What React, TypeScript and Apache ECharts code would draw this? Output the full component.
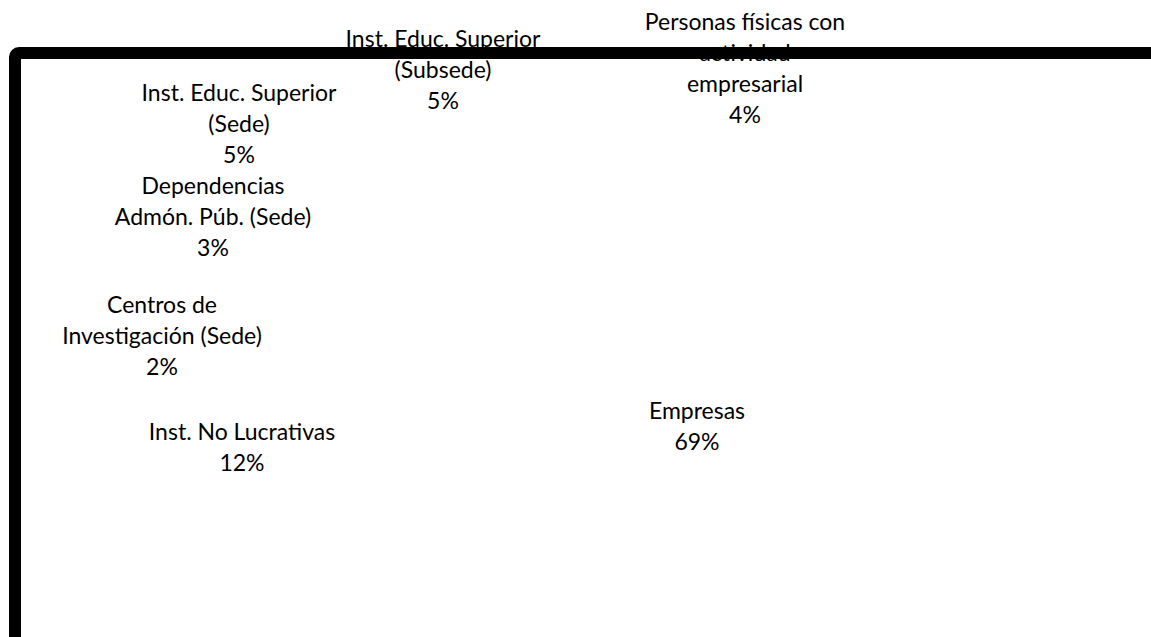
import React, { useEffect, useRef } from "react";
import * as echarts from "echarts";

const categories = [
  "Personas físicas con\nactividad\nempresarial",
  "Empresas",
  "Inst. No Lucrativas",
  "Centros de\nInvestigación (Sede)",
  "Dependencias\nAdmón. Púb. (Sede)",
  "Inst. Educ. Superior\n(Sede)",
  "Inst. Educ. Superior\n(Subsede)",
];
const values = [4, 69, 12, 2, 3, 5, 5];
// label centre positions (page pixels) as placed in the original chart
const labelX = [745, 697, 242, 162, 213, 239, 443];
const labelY = [67, 425, 446, 335, 216, 123, 69];

export default function App() {
  const ref = useRef<HTMLDivElement>(null);
  useEffect(() => {
    const chart = echarts.init(ref.current!, null, { renderer: "svg" });
    chart.setOption({
      animation: false,
      backgroundColor: "#ffffff",
      series: [
        {
          type: "pie",
          center: [700, 520],
          radius: [0, 380],
          startAngle: 90,
          clockwise: true,
          silent: true,
          itemStyle: { color: "rgba(255,255,255,0)", borderWidth: 0 },
          labelLine: { show: false },
          label: {
            show: true,
            position: "outside",
            formatter: (p: any) => p.name + "\n" + Math.round(p.percent) + "%",
            fontFamily: "Lato",
            fontSize: 23,
            lineHeight: 31,
            color: "#000000",
            align: "center",
          },
          labelLayout: (p: any) => ({
            x: labelX[p.dataIndex],
            y: labelY[p.dataIndex],
            align: "center",
            verticalAlign: "middle",
          }),
          data: categories.map((c, i) => ({ name: c, value: values[i] })),
        },
      ],
      graphic: [
        {
          type: "rect",
          z: 100,
          silent: true,
          shape: { x: 15, y: 53, width: 1300, height: 800, r: 4 },
          style: { fill: "none", stroke: "#000000", lineWidth: 12 },
        },
      ],
    });
    return () => chart.dispose();
  }, []);
  return (
    <div
      ref={ref}
      style={{ position: "fixed", left: 0, top: 0, width: 1151, height: 637 }}
    />
  );
}
